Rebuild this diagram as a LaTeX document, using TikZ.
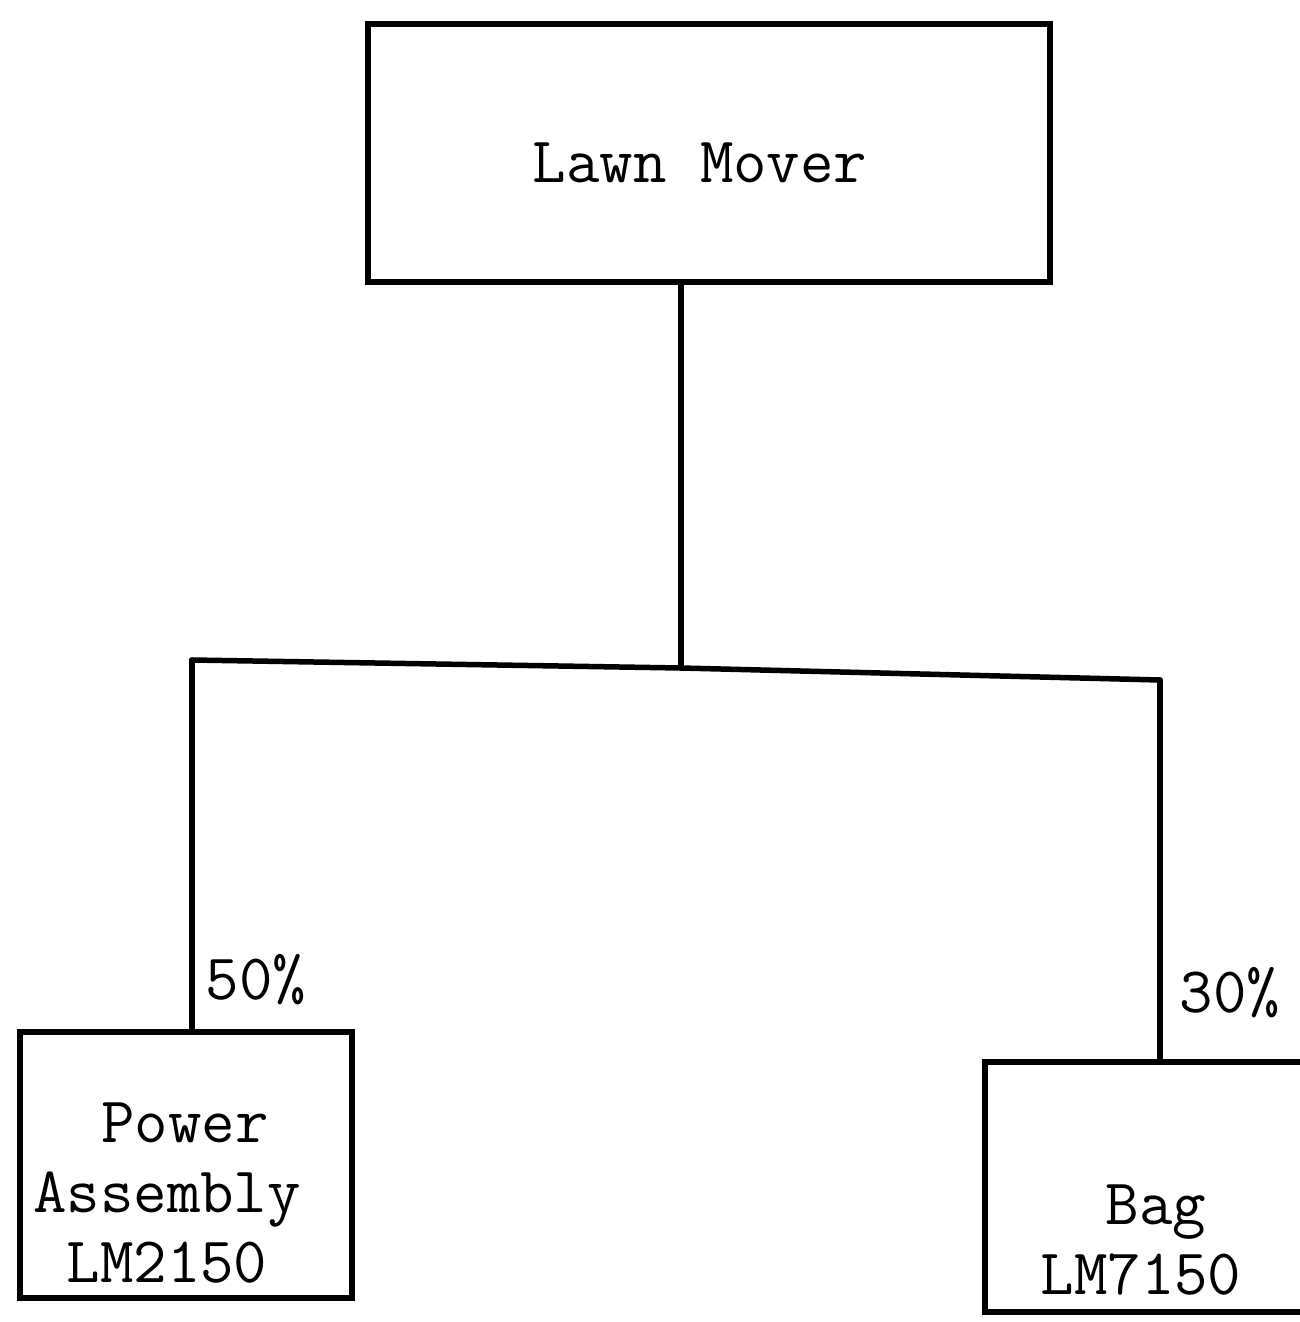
\documentclass[tikz,border=0pt]{standalone}
\usepackage{fontspec}
\begin{document}
\begin{tikzpicture}[x=1pt,y=-1pt,
  box/.style={draw, line width=5.5pt, rectangle, inner sep=0pt},
  txt/.style={font=\ttfamily\fontsize{65}{70}\selectfont, align=center, inner sep=0pt},
  conn/.style={line width=5.5pt, line cap=round, line join=round}]
\useasboundingbox[fill=white] (0,0) rectangle (1299,1322);
% top box
\node[box, minimum width=682pt, minimum height=258pt] (top) at (709,153) {};
\node[txt] (toptxt) at (700,163) {Lawn Mover};
% bus
\coordinate (j) at (681,668);
\coordinate (bl) at (192,660);
\coordinate (br) at (1160,680);
% left box
\node[box, minimum width=332pt, minimum height=266pt] (lbox) at (186,1165) {};
\node[txt] (ltxt) at (167,1193) {\hspace*{36pt}Power\\Assembly\\LM2150};
% right box
\node[box, minimum width=320pt, minimum height=250pt] (rbox) at (1145,1187) {};
\node[txt] (rtxt) at (1141,1240) {\hspace*{30pt}Bag\\LM7150};
% connectors
\draw[conn] (top.south -| j) -- (j);
\draw[conn] (bl) -- (j) -- (br);
\draw[conn] (bl) -- (bl |- lbox.north);
\draw[conn] (br) -- (br |- rbox.north);
% labels
\node[txt] (p50) at (256,980) {50\%};
\node[txt] (p30) at (1230,993) {30\%};
\end{tikzpicture}
\end{document}
